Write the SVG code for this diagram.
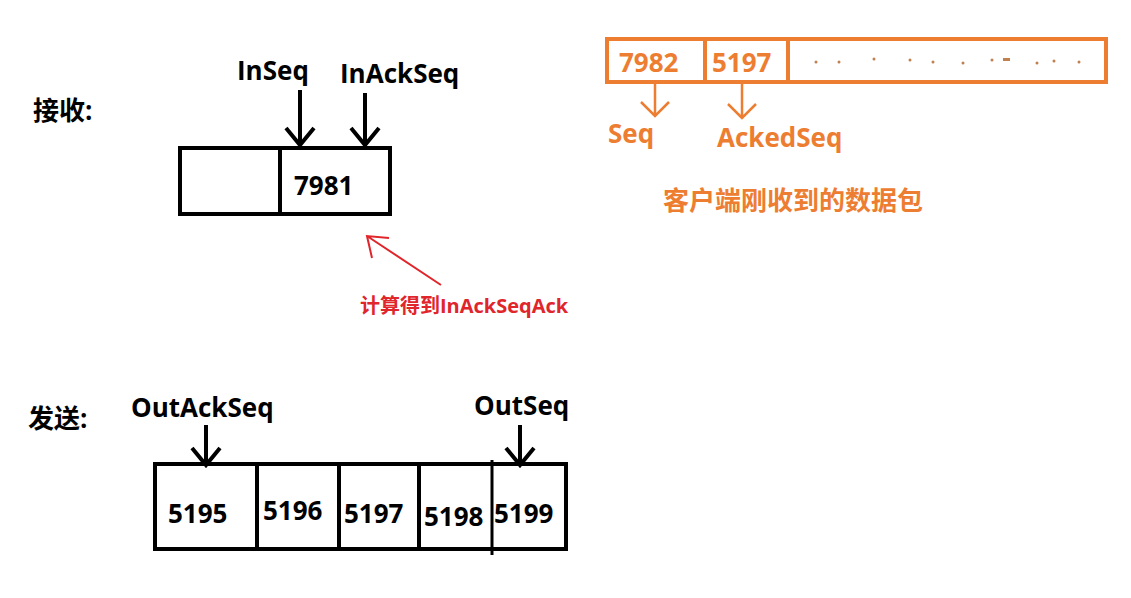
<svg xmlns="http://www.w3.org/2000/svg" width="1131" height="598" viewBox="0 0 1131 598">
<style>
text{font-family:"Open Sans","Noto Sans CJK SC",sans-serif;font-weight:bold}
.k{fill:#000;font-size:26px}
.o{fill:#ed7d31;font-size:26px}
.bx{fill:none;stroke:#000;stroke-width:4}
.ob{fill:none;stroke:#ed7d31;stroke-width:4}
.ar{stroke:#000;stroke-width:4;fill:none}
.oa{stroke:#ed7d31;stroke-width:2.5;fill:none}
</style>
<rect width="1131" height="598" fill="#fff"/>
<g id="recv-label"><text x="33" y="120" class="k" font-size="22">接收:</text></g>
<g id="recv-box">
<rect x="180" y="148" width="210" height="66" class="bx"/>
<line x1="280" y1="148" x2="280" y2="214" class="bx"/>
<text x="294" y="195" class="k">7981</text>
</g>
<g id="inseq"><text x="237" y="80" class="k">InSeq</text></g>
<g id="inackseq"><text x="340" y="83" class="k">InAckSeq</text></g>
<g id="calc"><text x="360" y="313" fill="#e0252b" font-size="20">计算得到InAckSeqAck</text></g>
<g id="client-buf">
<rect x="607" y="39" width="499" height="43" class="ob"/>
<line x1="705" y1="39" x2="705" y2="82" class="ob"/>
<line x1="788" y1="39" x2="788" y2="82" class="ob"/>
<text x="619" y="72" class="o">7982</text>
<text x="712" y="72" class="o">5197</text>
<g fill="#c08050"><circle cx="816" cy="62" r="1.5"/><circle cx="839" cy="62" r="1.5"/><circle cx="874" cy="59" r="1.5"/><circle cx="910" cy="60" r="1.5"/><circle cx="933" cy="62" r="1.5"/><circle cx="963" cy="63" r="1.5"/><circle cx="992" cy="60" r="1.5"/><rect x="1003" y="58" width="7" height="3"/><circle cx="1037" cy="63" r="1.5"/><circle cx="1054" cy="61" r="1.5"/><circle cx="1079" cy="62" r="1.5"/></g>
</g>
<g id="seq"><text x="608" y="143" class="o">Seq</text></g>
<g id="ackedseq"><text x="717" y="147" class="o">AckedSeq</text></g>
<g id="client-caption"><text x="663" y="210" class="o" font-size="22">客户端刚收到的数据包</text></g>
<g id="send-label"><text x="28" y="428" class="k" font-size="22">发送:</text></g>
<g id="outackseq"><text x="131" y="417" class="k">OutAckSeq</text></g>
<g id="outseq"><text x="474" y="415" class="k">OutSeq</text></g>
<g id="send-box">
<rect x="155" y="464" width="411" height="85" class="bx"/>
<line x1="257" y1="464" x2="257" y2="549" class="bx"/>
<line x1="339" y1="464" x2="339" y2="549" class="bx"/>
<line x1="419" y1="464" x2="419" y2="549" class="bx"/>
<line x1="492" y1="460" x2="492" y2="555" stroke="#000" stroke-width="3"/>
<text x="168" y="523" class="k">5195</text>
<text x="263" y="520" class="k">5196</text>
<text x="344" y="523" class="k">5197</text>
<text x="424" y="526" class="k">5198</text>
<text x="494" y="523" class="k">5199</text>
</g>
<g id="connectors">
<path d="M300 90V145M286 128L300 145L314 128" class="ar"/>
<path d="M365 93V145M351 128L365 145L379 128" class="ar"/>
<path d="M206 425V465M192 448L206 465L220 448" class="ar"/>
<path d="M520 425V465M506 448L520 465L534 448" class="ar"/>
<path d="M655 84V116M641 102L655 116L669 102" class="oa"/>
<path d="M742 84V118M728 104L742 118L756 104" class="oa"/>
<path d="M441 285L367 236M372 258L367 236L389 238" stroke="#e0252b" stroke-width="2" fill="none"/>
</g>
</svg>
